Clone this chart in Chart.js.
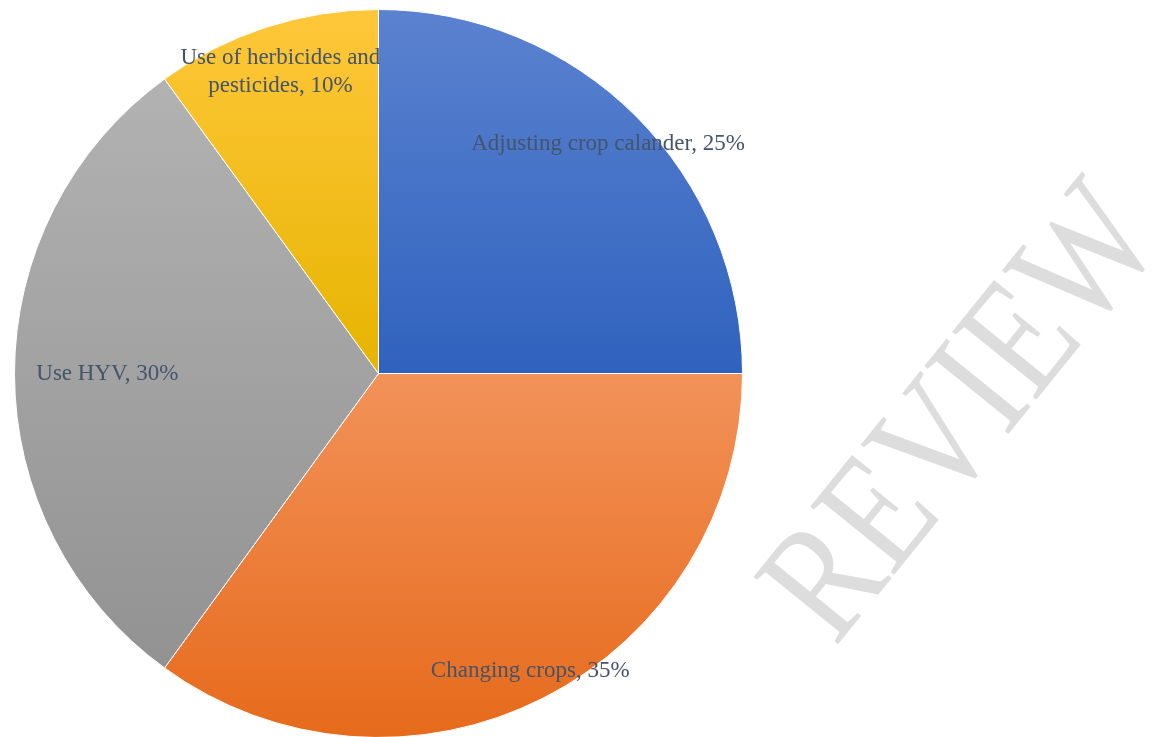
<!DOCTYPE html>
<html>
<head>
<meta charset="utf-8">
<script src="https://cdn.jsdelivr.net/npm/chart.js@4"></script>
<style>
  html, body { margin: 0; padding: 0; background: #fff; overflow: hidden; }
  #wrap { width: 1155px; height: 745px; position: relative; }
</style>
</head>
<body>
<div id="wrap"><canvas id="pieChart"></canvas></div>
<script>
// Data
const categories = ["Adjusting crop calander", "Changing crops", "Use HYV", "Use of herbicides and pesticides"];
const shares = [25, 35, 30, 10];

// Label lines (how the labels wrap) and where they sit along each slice (fraction of radius)
const labelLines = [
  ["Adjusting crop calander, 25%"],
  ["Changing crops, 35%"],
  ["Use HYV, 30%"],
  ["Use of herbicides and", "pesticides, 10%"]
];
const labelRadius = [0.892, 0.918, 0.745, 0.872];

// gradient stops, light at top -> dark at bottom
const topColors = ["#5b82d0", "#f29259", "#b2b2b2", "#ffc73a"];
const bottomColors = ["#2f62be", "#e66a1b", "#929292", "#e6b400"];

function sliceAngles(i) {
  const total = shares.reduce((a, b) => a + b, 0);
  let start = -Math.PI / 2;
  for (let k = 0; k < i; k++) start += shares[k] / total * Math.PI * 2;
  return [start, start + shares[i] / total * Math.PI * 2];
}

function sliceGradient(ctx) {
  const chart = ctx.chart;
  const area = chart.chartArea;
  if (!area) return topColors[ctx.dataIndex];
  const cx = (area.left + area.right) / 2;
  const cy = (area.top + area.bottom) / 2;
  const r = Math.min(area.right - area.left, area.bottom - area.top) / 2;
  const [a0, a1] = sliceAngles(ctx.dataIndex);
  // vertical extent of the slice
  let ys = [cy, cy + r * Math.sin(a0), cy + r * Math.sin(a1)];
  const inRange = a => {
    let t = a;
    while (t < a0) t += Math.PI * 2;
    return t <= a1;
  };
  if (inRange(-Math.PI / 2)) ys.push(cy - r);
  if (inRange(Math.PI / 2)) ys.push(cy + r);
  const y0 = Math.min(...ys), y1 = Math.max(...ys);
  const g = chart.ctx.createLinearGradient(0, y0, 0, y1);
  g.addColorStop(0, topColors[ctx.dataIndex]);
  g.addColorStop(1, bottomColors[ctx.dataIndex]);
  return g;
}

const sliceLabels = {
  id: "sliceLabels",
  afterDatasetsDraw(chart) {
    const ctx = chart.ctx;
    const meta = chart.getDatasetMeta(0);
    ctx.save();
    ctx.font = '23px "Liberation Serif", "Times New Roman", serif';
    ctx.fillStyle = "#44546a";
    ctx.textAlign = "center";
    ctx.textBaseline = "middle";
    meta.data.forEach((arc, i) => {
      const mid = (arc.startAngle + arc.endAngle) / 2;
      const d = arc.outerRadius * labelRadius[i];
      const x = arc.x + Math.cos(mid) * d;
      const y = arc.y + Math.sin(mid) * d;
      const lines = labelLines[i];
      const lh = 28;
      lines.forEach((t, j) => {
        ctx.fillText(t, x, y + (j - (lines.length - 1) / 2) * lh);
      });
    });
    ctx.restore();
  }
};

const watermark = {
  id: "watermark",
  afterDraw(chart) {
    const ctx = chart.ctx;
    ctx.save();
    ctx.translate(835, 648);
    ctx.rotate(-51 * Math.PI / 180);
    ctx.scale(0.82, 1);
    ctx.font = '165px "Liberation Serif", "Times New Roman", serif';
    ctx.fillStyle = "#dddddd";
    ctx.textAlign = "left";
    ctx.textBaseline = "alphabetic";
    ctx.fillText("REVIEW", 0, 0);
    ctx.restore();
  }
};

new Chart(document.getElementById("pieChart"), {
  type: "pie",
  data: {
    labels: categories,
    datasets: [{
      data: shares,
      backgroundColor: sliceGradient,
      borderColor: "#ffffff",
      borderWidth: 1
    }]
  },
  options: {
    responsive: true,
    maintainAspectRatio: false,
    animation: false,
    layout: { padding: { left: 14, right: 412, top: 9, bottom: 7 } },
    plugins: {
      legend: { display: false },
      tooltip: { enabled: false }
    }
  },
  plugins: [sliceLabels, watermark]
});
</script>
</body>
</html>
